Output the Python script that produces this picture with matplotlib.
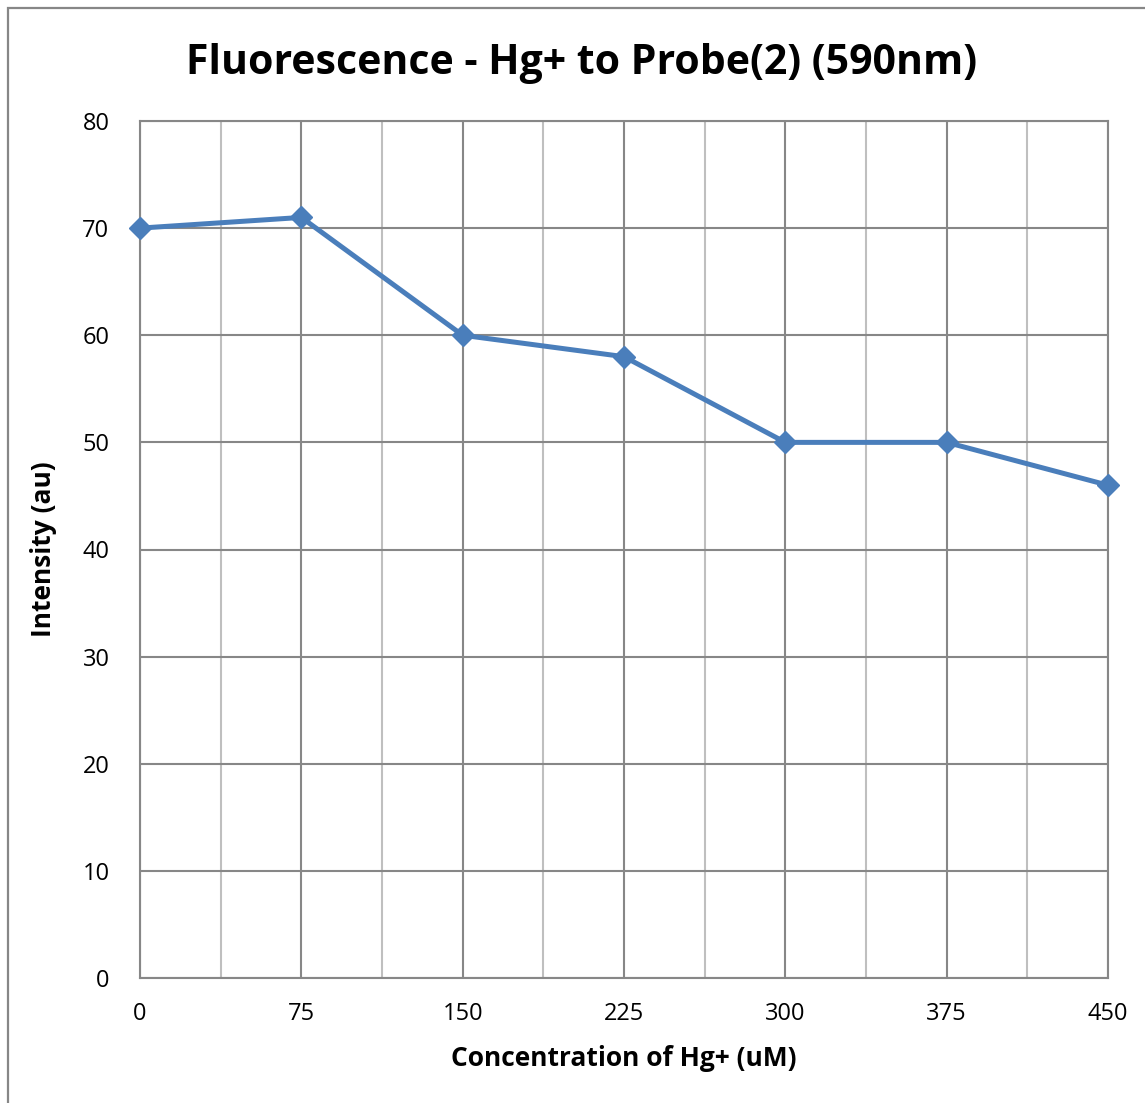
import matplotlib
matplotlib.use("Agg")
import matplotlib.pyplot as plt
from matplotlib.patches import Rectangle
from matplotlib.ticker import MultipleLocator

# data
concentration = [0, 75, 150, 225, 300, 375, 450]
intensity = [70, 71, 60, 58, 50, 50, 46]

line_color = "#4A7EBB"
major_grid = "#878787"
minor_grid = "#BFBFBF"

plt.rcParams["font.family"] = ["Open Sans", "DejaVu Sans"]

fig = plt.figure(figsize=(11.45, 11.03), dpi=100)
ax = fig.add_axes([140 / 1145, 1 - 978 / 1103, 968 / 1145, 857 / 1103])

# outer chart border (cut off at right and bottom in the reference)
fig.patches.append(
    Rectangle((8 / 1145, -0.1), 1.2, 1 - 8 / 1103 + 0.1,
              transform=fig.transFigure, fill=False,
              edgecolor="#878787", linewidth=1.6, zorder=0)
)

ax.plot(concentration, intensity, color=line_color, linewidth=3.6,
        marker="D", markersize=11.5, markerfacecolor=line_color,
        markeredgecolor=line_color, zorder=5, clip_on=False)

ax.set_xlim(0, 450)
ax.set_ylim(0, 80)
ax.xaxis.set_major_locator(MultipleLocator(75))
ax.xaxis.set_minor_locator(MultipleLocator(37.5))
ax.yaxis.set_major_locator(MultipleLocator(10))

ax.grid(which="major", color=major_grid, linewidth=1.5)
ax.grid(which="minor", axis="x", color=minor_grid, linewidth=1.5)
ax.set_axisbelow(True)
for side in ax.spines.values():
    side.set_color(major_grid)
    side.set_linewidth(1.5)

ax.tick_params(which="both", length=0, labelsize=17, colors="black")
ax.tick_params(axis="x", pad=17)
ax.tick_params(axis="y", pad=22)

fig.text(582 / 1145, 1 - 64 / 1103, "Fluorescence - Hg+ to Probe(2) (590nm)",
         fontsize=29.5, fontweight="bold", ha="center", va="center")
ax.set_xlabel("Concentration of Hg+ (uM)", fontsize=19, fontweight="bold",
              labelpad=14)
ax.set_ylabel("Intensity (au)", fontsize=19, fontweight="bold", labelpad=18)

fig.savefig("out.png", dpi=100)
